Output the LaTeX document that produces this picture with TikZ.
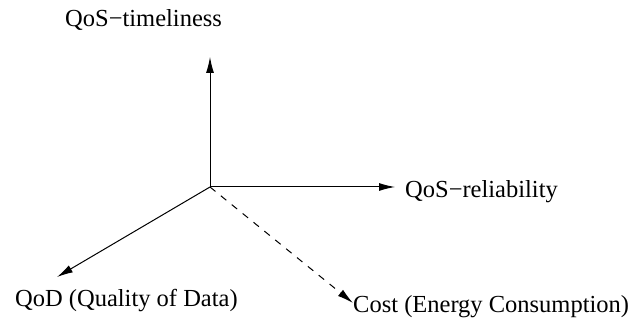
\documentclass[tikz,border=0pt]{standalone}
\usepackage{fontspec}
\setmainfont{Liberation Serif}
\usetikzlibrary{arrows.meta}
\begin{document}
\begin{tikzpicture}[x=1pt,y=-1pt,
  lbl/.style={anchor=base west,inner sep=0pt,font=\fontsize{24.5}{28}\selectfont},
  axis/.style={line width=1pt,-{Latex[length=16pt,width=8pt]}}]
\useasboundingbox (0,0) rectangle (641,320);
\coordinate (O) at (210,187);
\coordinate (tup) at (210,57);
\coordinate (tright) at (395,187);
\coordinate (tqod) at (57,277);
\coordinate (tcost) at (353,303);
\node[lbl] (time) at (65,27) {QoS−timeliness};
\node[lbl] (rel) at (405,198) {QoS−reliability};
\node[lbl] (qod) at (15,307) {QoD (Quality of Data)};
\node[lbl] (cost) at (353,313) {Cost (Energy Consumption)};
\draw[axis] (O) -- (tup);
\draw[axis] (O) -- (tright);
\draw[axis] (O) -- (tqod);
\draw[axis,dash pattern=on 7pt off 7pt] (O) -- (tcost);
\end{tikzpicture}
\end{document}
